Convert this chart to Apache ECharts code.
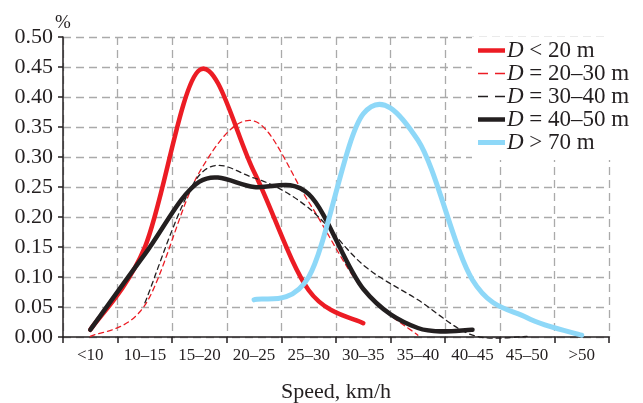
<!DOCTYPE html>
<html><head><meta charset="utf-8">
<script src="https://cdn.jsdelivr.net/npm/echarts@6/dist/echarts.min.js"></script>
<style>html,body{margin:0;padding:0;background:#fff;overflow:hidden}#c{width:643px;height:403px}</style>
</head><body><div id="c"></div>
<script>
var categories = ['<10', '10\u201315', '15\u201320', '20\u201325', '25\u201330', '30\u201335', '35\u201340', '40\u201345', '45\u201350', '>50'];
var seriesNames = ['D < 20 m', 'D = 20\u201330 m', 'D = 30\u201340 m', 'D = 40\u201350 m', 'D > 70 m'];
var dLess20 = [0.012, 0.150, 0.445, 0.275, 0.078, 0.023, null, null, null, null];
var d20to30 = [0.001, 0.053, 0.275, 0.360, 0.225, 0.078, 0.003, null, null, null];
var d30to40 = [null, 0.057, 0.270, 0.265, 0.215, 0.120, 0.062, 0.003, 0.001, null];
var d40to50 = [0.012, 0.138, 0.259, 0.250, 0.238, 0.080, 0.015, 0.012, null, null];
var dOver70 = [null, null, null, 0.062, 0.100, 0.372, 0.328, 0.095, 0.032, 0.003];

var FONT = 'Liberation Serif';
var INK = '#231f20';
var chart = echarts.init(document.getElementById('c'));

function spline(name, vals, color, width, dash) {
  var items = [];
  vals.forEach(function (v, i) { if (v != null) items.push([i, v]); });
  return {
    name: name, type: 'custom', coordinateSystem: 'cartesian2d',
    data: items, encode: { x: 0, y: 1 },
    itemStyle: { color: color },
    renderItem: function (params, api) {
      if (params.dataIndex !== 0) return null;
      var pts = items.map(function (d) { return api.coord(d); });
      var p = 'M' + pts[0][0] + ',' + pts[0][1];
      for (var k = 0; k < pts.length - 1; k++) {
        var p0 = pts[k - 1] || pts[k], p1 = pts[k], p2 = pts[k + 1], p3 = pts[k + 2] || pts[k + 1];
        var c1x = p1[0] + (p2[0] - p0[0]) / 6, c1y = p1[1] + (p2[1] - p0[1]) / 6;
        var c2x = p2[0] - (p3[0] - p1[0]) / 6, c2y = p2[1] - (p3[1] - p1[1]) / 6;
        p += 'C' + c1x + ',' + c1y + ',' + c2x + ',' + c2y + ',' + p2[0] + ',' + p2[1];
      }
      return {
        type: 'path', shape: { pathData: p },
        style: { fill: 'none', stroke: color, lineWidth: width, lineDash: dash || null, lineCap: 'round', lineJoin: 'round' }
      };
    }
  };
}
var solidIcon = 'path://M0,0H27V4.5H0Z';
var dashIcon = 'path://M0,0H10V1.5H0Z M17,0H27V1.5H17Z';
var blueIcon = 'path://M0,0H27V5H0Z';
var icons = [solidIcon, dashIcon, dashIcon, solidIcon, blueIcon];

chart.setOption({
  animation: false,
  backgroundColor: '#fff',
  grid: { left: 63, right: 34, top: 37, bottom: 66, containLabel: false, outerBoundsMode: 'none' },
  legend: {
    orient: 'vertical', left: 472, top: 37, padding: [2, 40, 6, 6],
    backgroundColor: '#fff', itemWidth: 27, itemHeight: 14, itemGap: 0,
    data: seriesNames.map(function (n, i) { return { name: n, icon: icons[i] }; }),
    formatter: function (n) { return '{i|D}' + n.slice(1); },
    textStyle: { fontFamily: FONT, fontSize: 23, lineHeight: 23, color: INK, padding: [0, 0, 0, -3],
      rich: { i: { fontFamily: FONT, fontSize: 23, lineHeight: 23, fontStyle: 'italic', color: INK } } }
  },
  xAxis: {
    type: 'category', data: categories, boundaryGap: true,
    name: 'Speed, km/h', nameLocation: 'middle', nameGap: 44, nameMoveOverlap: false,
    nameTextStyle: { fontFamily: FONT, fontSize: 22, color: INK },
    axisLine: { lineStyle: { color: INK, width: 1.5 } },
    axisTick: { show: true, interval: 0, length: 6, lineStyle: { color: INK, width: 1.5 } },
    axisLabel: { interval: 0, fontFamily: FONT, fontSize: 17, color: INK, margin: 10 },
    splitLine: { show: true, interval: 0, lineStyle: { color: '#aaaaaa', width: 1.3, type: [8, 5] } }
  },
  yAxis: {
    type: 'value', min: 0, max: 0.5, interval: 0.05,
    name: '%', nameLocation: 'end', nameGap: 4, nameMoveOverlap: false,
    nameTextStyle: { fontFamily: FONT, fontSize: 19, color: INK, align: 'center' },
    axisLine: { show: true, lineStyle: { color: INK, width: 1.5 } },
    axisTick: { show: true, length: 5, lineStyle: { color: INK, width: 1.5 } },
    axisLabel: { fontFamily: FONT, fontSize: 22, color: INK, margin: 10,
      formatter: function (v) { return v.toFixed(2); } },
    splitLine: { show: true, lineStyle: { color: '#aaaaaa', width: 1.3, type: [8, 5] } }
  },
  series: [
    spline(seriesNames[0], dLess20, '#ec1c24', 4.5),
    spline(seriesNames[1], d20to30, '#ec1c24', 1.3, [5, 4]),
    spline(seriesNames[2], d30to40, INK, 1.3, [5, 4]),
    spline(seriesNames[3], d40to50, INK, 4.5),
    spline(seriesNames[4], dOver70, '#8ed8f8', 5)
  ]
});
</script></body></html>
